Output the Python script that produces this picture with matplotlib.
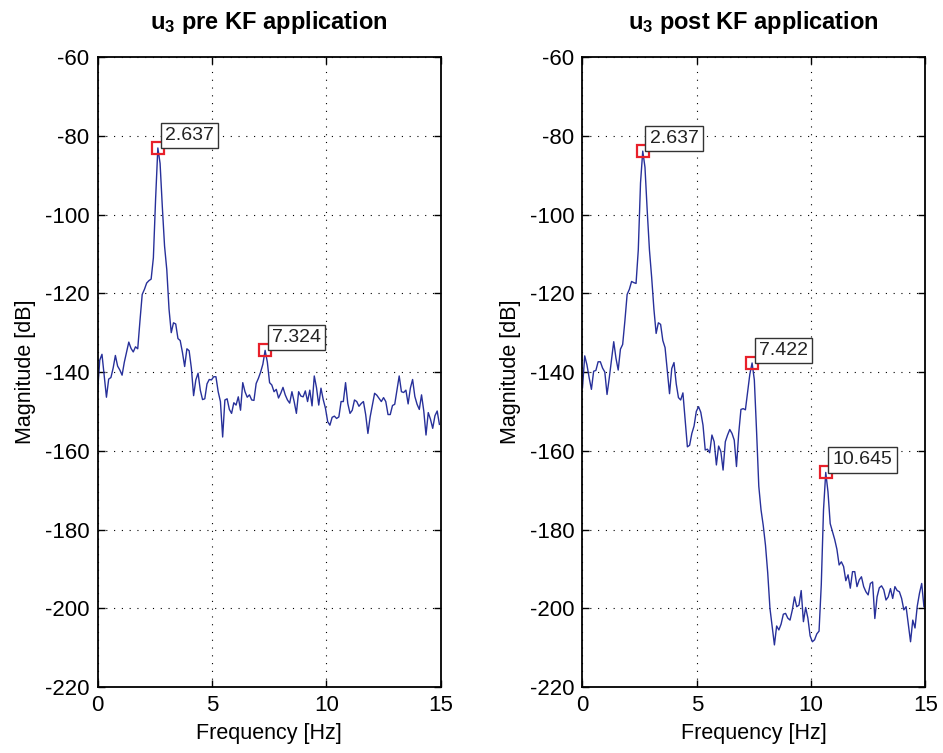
import numpy as np
import matplotlib
matplotlib.use('Agg')
import matplotlib.pyplot as plt

# Spectra of u3 before / after the Kalman filter, bin width fs/N = 100/1024 Hz
df_hz = 100 / 1024

pre_kf = [
    -145.3, -137.0, -135.5, -141.0, -146.4, -141.8, -141.4, -139.0, -135.8, -138.5,
    -139.5, -140.8, -137.5, -135.0, -132.4, -134.0, -134.9, -133.6, -134.1, -127.0,
    -120.3, -119.0, -117.4, -116.8, -116.4, -111.0, -96.0, -83.1, -87.0, -98.0,
    -108.0, -114.0, -124.0, -130.0, -127.5, -127.8, -131.5, -132.0, -135.0, -138.6,
    -134.1, -134.6, -139.0, -146.0, -142.0, -140.3, -144.6, -147.0, -146.8, -143.0,
    -141.9, -142.0, -141.2, -141.2, -145.0, -147.5, -156.5, -147.1, -146.8, -149.5,
    -150.5, -147.8, -148.4, -146.3, -149.7, -142.7, -145.0, -146.4, -145.8, -147.1,
    -147.2, -142.9, -141.6, -140.0, -138.0, -134.5, -137.5, -142.7, -143.3, -145.0,
    -144.4, -146.6, -145.4, -143.9, -145.8, -147.1, -147.9, -145.0, -147.5, -150.5,
    -145.0, -146.1, -146.3, -144.8, -147.5, -144.6, -148.6, -141.0, -144.0, -148.4,
    -144.1, -147.0, -149.2, -152.6, -153.5, -151.5, -151.2, -151.8, -151.4, -147.5,
    -147.5, -142.7, -148.0, -150.5, -149.7, -147.1, -147.5, -148.7, -148.0, -147.5,
    -150.8, -155.6, -151.4, -148.4, -145.4, -145.9, -146.7, -147.5, -146.5, -147.5,
    -150.8, -150.8, -148.5, -148.2, -144.6, -141.0, -145.0, -145.2, -144.6, -148.1,
    -144.1, -141.9, -146.2, -148.2, -149.5, -145.8, -149.9, -156.0, -150.3, -152.0,
    -154.3, -151.1, -149.9, -153.3,
]

post_kf = [
    -144.0, -135.9, -138.2, -141.5, -144.4, -139.8, -139.6, -137.4, -137.4, -139.0,
    -140.0, -145.7, -141.5, -137.0, -132.3, -136.5, -139.5, -134.2, -133.0, -127.0,
    -120.3, -119.0, -117.0, -117.3, -117.5, -109.0, -92.0, -83.9, -88.0, -99.0,
    -109.0, -116.0, -124.0, -130.2, -127.5, -127.9, -132.0, -133.8, -139.7, -145.5,
    -139.1, -137.6, -143.0, -146.5, -147.1, -145.3, -152.0, -159.0, -158.6, -155.6,
    -153.7, -150.0, -148.8, -150.2, -153.5, -159.8, -159.6, -160.5, -156.0, -157.7,
    -163.6, -158.8, -160.2, -164.9, -157.7, -156.0, -154.6, -155.6, -157.3, -164.0,
    -155.6, -149.5, -149.3, -149.6, -145.0, -140.5, -137.7, -142.0, -155.0, -169.0,
    -175.0, -179.0, -184.0, -191.0, -200.0, -204.6, -209.3, -204.5, -205.5, -204.0,
    -201.5, -201.3, -202.5, -203.0, -200.5, -197.1, -199.6, -199.2, -195.5, -203.4,
    -199.8, -202.5, -207.0, -208.5, -208.0, -206.5, -205.8, -194.0, -175.0, -165.5,
    -170.4, -178.5, -180.5, -182.5, -185.0, -189.0, -188.2, -189.4, -193.0, -191.5,
    -194.9, -190.7, -190.7, -194.5, -192.8, -192.0, -194.5, -195.8, -196.6, -193.7,
    -193.3, -202.6, -197.1, -194.8, -194.3, -195.3, -197.9, -197.1, -195.0, -197.5,
    -194.5, -195.5, -195.8, -197.5, -200.4, -199.6, -204.0, -208.5, -203.0, -205.0,
    -199.5, -196.2, -193.7, -199.6,
]

# bins marked with data tips
pre_peaks = [27, 75]
post_peaks = [27, 76, 109]

titles = ['pre KF application', 'post KF application']

fam = 'Liberation Sans'
plt.rcParams['font.family'] = fam
plt.rcParams['axes.unicode_minus'] = False
plt.rcParams['mathtext.fontset'] = 'custom'
plt.rcParams['mathtext.rm'] = fam
plt.rcParams['mathtext.bf'] = fam + ':bold'

line_col = '#27309a'

fig = plt.figure(figsize=(9.43, 7.53), dpi=100)
ax1 = fig.add_axes([0.1034, 0.0876, 0.3640, 0.8367])
ax2 = fig.add_axes([0.6177, 0.0876, 0.3635, 0.8367])

for ax, spec, peaks, title in zip([ax1, ax2], [pre_kf, post_kf],
                                  [pre_peaks, post_peaks], titles):
    spec = np.array(spec)
    f = np.arange(len(spec)) * df_hz
    ax.plot(f, spec, color=line_col, lw=1.0)
    for k in peaks:
        ax.plot(f[k], spec[k], 's', ms=8, mfc='none', mec='#e8202a', mew=1.6)
        ax.annotate('%.3f' % f[k], xy=(f[k], spec[k]), xytext=(5, 3),
                    textcoords='offset points', ha='left', va='bottom',
                    fontsize=14, color='#222222',
                    bbox=dict(boxstyle='square,pad=0.22', fc='white',
                              ec='#333333', lw=1.0))
    ax.set_xlim(0, 15)
    ax.set_ylim(-220, -60)
    ax.set_xticks([0, 5, 10, 15])
    ax.set_yticks(np.arange(-220, -59, 20))
    ax.grid(True, color='black', linestyle=(0, (1, 6)), linewidth=0.8)
    ax.tick_params(direction='in', length=5, width=1, top=True, right=True,
                   labelsize=16, pad=6)
    for s in ax.spines.values():
        s.set_linewidth(1.3)
    ax.set_xlabel('Frequency [Hz]', fontsize=15.5, labelpad=5)
    ax.set_ylabel('Magnitude [dB]', fontsize=15.5, labelpad=6)
    ax.set_title(r'$\mathbf{u_3}$ ' + title, fontsize=17,
                 fontweight='bold', pad=20)

fig.savefig('out.png', dpi=100)
